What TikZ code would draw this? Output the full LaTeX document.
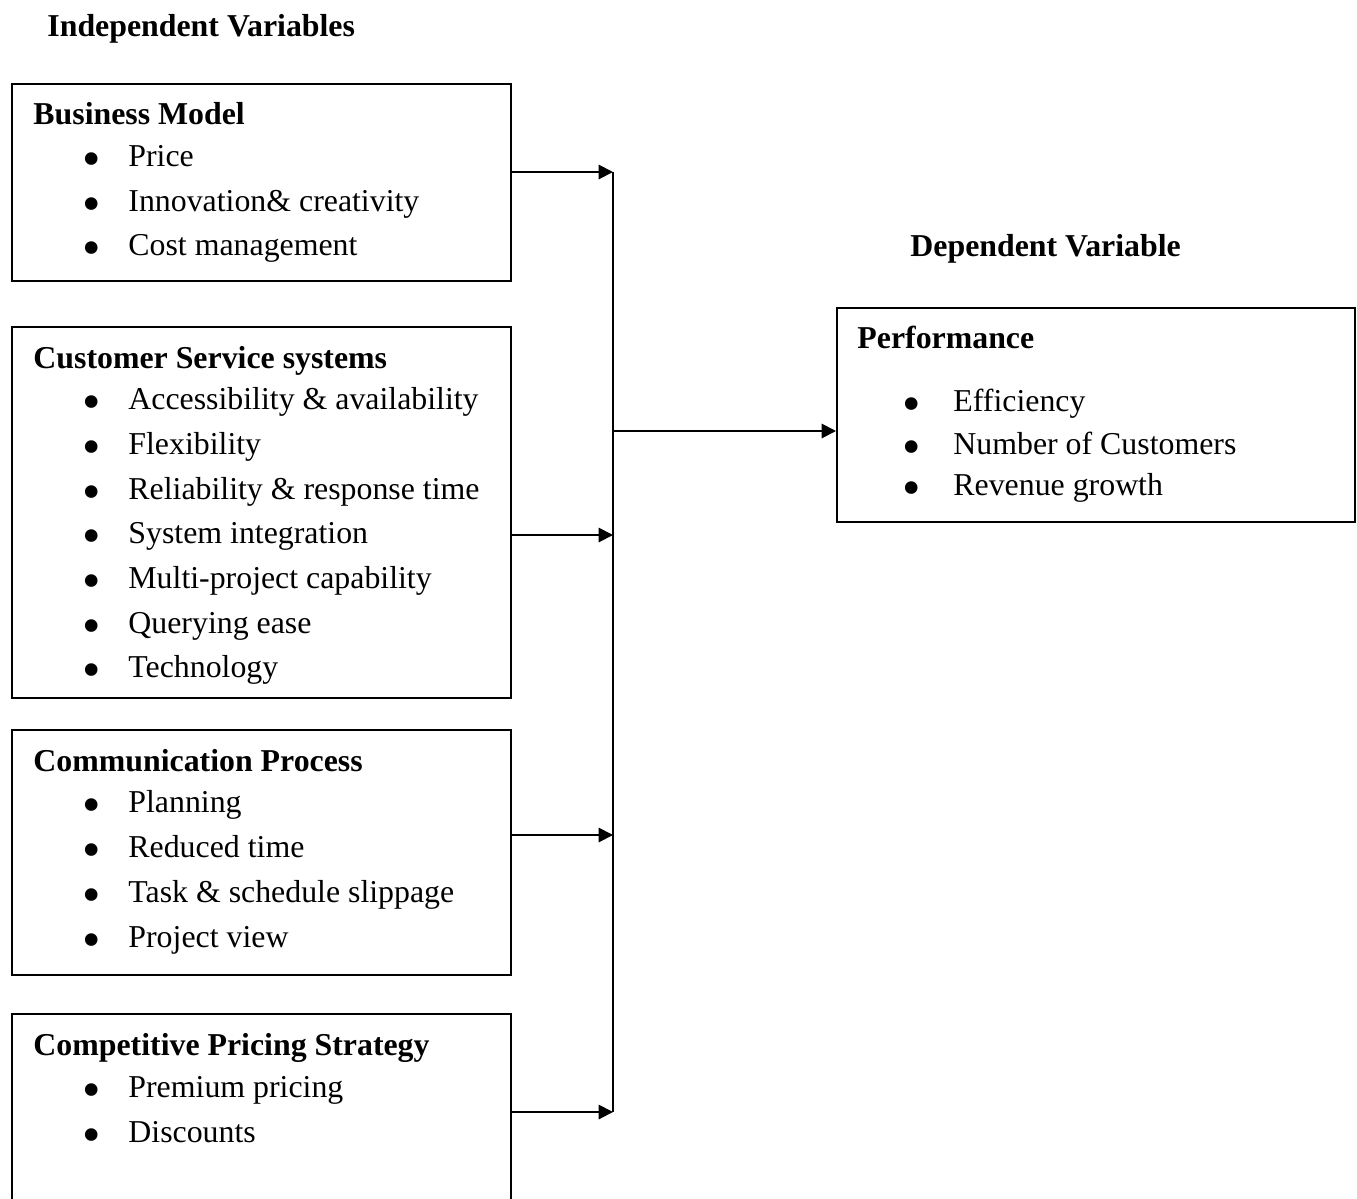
\documentclass[tikz,border=0pt]{standalone}
\usepackage{fontspec}
\setmainfont{Liberation Serif}
\usetikzlibrary{arrows.meta,positioning}

\tikzset{
  box/.style={draw, line width=0.9pt, anchor=north west, inner sep=0pt},
  head/.style={font=\fontsize{14.5}{17}\selectfont\bfseries, anchor=base west, inner sep=0pt},
  item/.style={anchor=base west, inner sep=0pt},
  dot/.style={font=\fontsize{24}{17}\selectfont, anchor=base, inner sep=0pt, yshift=-10*0.016cm},
  link/.style={line width=0.9pt, -{Triangle[length=6.5pt,width=6.5pt]}}
}

\begin{document}
\begin{tikzpicture}[x=0.016cm, y=-0.016cm, font=\fontsize{14.5}{17}\selectfont]
\useasboundingbox (0,0) rectangle (1357,1198);
\clip (0,0) rectangle (1357,1198);
% boxes
\node[box, minimum width=499*0.016cm, minimum height=197*0.016cm] (bm) at (11,83) {};
\node[box, minimum width=499*0.016cm, minimum height=371*0.016cm] (cs) at (11,326) {};
\node[box, minimum width=499*0.016cm, minimum height=245*0.016cm] (cp) at (11,729) {};
\node[box, minimum width=499*0.016cm, minimum height=260*0.016cm] (ps) at (11,1013) {};
\node[box, minimum width=518*0.016cm, minimum height=214*0.016cm] (perf) at (836,307) {};
% headings
\node[head] (indep) at (47,36) {Independent Variables};
\node[head] (dep) at (910,256) {Dependent Variable};
\node[head] (bmtitle) at (33,124) {Business Model};
\node[head] (cstitle) at (33,368) {Customer Service systems};
\node[head] (cptitle) at (33,771) {Communication Process};
\node[head] (pstitle) at (33,1055) {Competitive Pricing Strategy};
\node[head] (perftitle) at (857,348) {Performance};
% bullet items
\foreach \y/\t in {166/Price, 211/Innovation\& creativity, 255/Cost management}
{
  \node[dot] (bmdot\y) at (92,\y) {\textbullet};
  \node[item] (bmitem\y) at (128,\y) {\t};
}
\foreach \y/\t in {409/Accessibility \& availability, 454/Flexibility,
  499/Reliability \& response time, 543/System integration,
  588/Multi-project capability, 633/Querying ease, 677/Technology}
{
  \node[dot] (csdot\y) at (92,\y) {\textbullet};
  \node[item] (csitem\y) at (128,\y) {\t};
}
\foreach \y/\t in {812/Planning, 857/Reduced time, 902/Task \& schedule slippage, 947/Project view}
{
  \node[dot] (cpdot\y) at (92,\y) {\textbullet};
  \node[item] (cpitem\y) at (128,\y) {\t};
}
\foreach \y/\t in {1097/Premium pricing, 1142/Discounts}
{
  \node[dot] (psdot\y) at (92,\y) {\textbullet};
  \node[item] (psitem\y) at (128,\y) {\t};
}
\foreach \y/\t in {411/Efficiency, 454/Number of Customers, 495/Revenue growth}
{
  \node[dot] (perfdot\y) at (912,\y) {\textbullet};
  \node[item] (perfitem\y) at (953,\y) {\t};
}
% connectors
\coordinate (j1) at (613,172);
\coordinate (j2) at (613,535);
\coordinate (j3) at (613,835);
\coordinate (j4) at (613,1112);
\coordinate (mid) at (613,431);
\draw[line width=0.9pt] (j1) -- (j4);
\draw[link] (bm.east |- j1) -- (j1);
\draw[link] (cs.east |- j2) -- (j2);
\draw[link] (cp.east |- j3) -- (j3);
\draw[link] (ps.east |- j4) -- (j4);
\draw[link] (mid) -- (mid -| perf.west);
\end{tikzpicture}
\end{document}
